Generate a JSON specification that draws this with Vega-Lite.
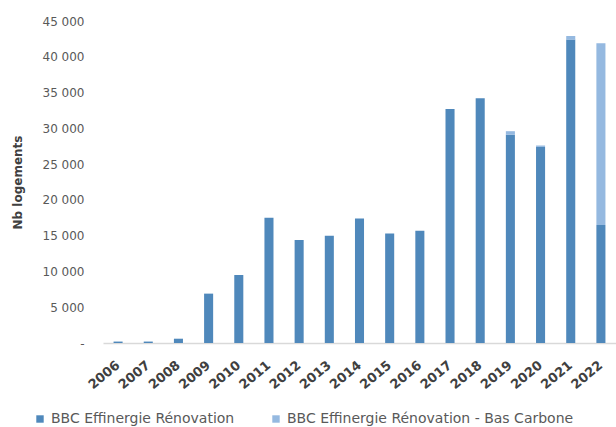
{
  "$schema": "https://vega.github.io/schema/vega-lite/v6.json",
  "autosize": {"type": "none"},
  "padding": {"left": 103, "top": 21, "right": 0, "bottom": 84},
  "width": 513,
  "height": 322,
  "background": "white",
  "config": {"view": {"stroke": null}},
  "data": {"values": [
    {"annee": "2006", "serie": "BBC Effinergie Rénovation", "ordre": 1, "nb": 200},
    {"annee": "2007", "serie": "BBC Effinergie Rénovation", "ordre": 1, "nb": 200},
    {"annee": "2008", "serie": "BBC Effinergie Rénovation", "ordre": 1, "nb": 600},
    {"annee": "2009", "serie": "BBC Effinergie Rénovation", "ordre": 1, "nb": 6900},
    {"annee": "2010", "serie": "BBC Effinergie Rénovation", "ordre": 1, "nb": 9500},
    {"annee": "2011", "serie": "BBC Effinergie Rénovation", "ordre": 1, "nb": 17500},
    {"annee": "2012", "serie": "BBC Effinergie Rénovation", "ordre": 1, "nb": 14400},
    {"annee": "2013", "serie": "BBC Effinergie Rénovation", "ordre": 1, "nb": 15000},
    {"annee": "2014", "serie": "BBC Effinergie Rénovation", "ordre": 1, "nb": 17400},
    {"annee": "2015", "serie": "BBC Effinergie Rénovation", "ordre": 1, "nb": 15300},
    {"annee": "2016", "serie": "BBC Effinergie Rénovation", "ordre": 1, "nb": 15700},
    {"annee": "2017", "serie": "BBC Effinergie Rénovation", "ordre": 1, "nb": 32700},
    {"annee": "2018", "serie": "BBC Effinergie Rénovation", "ordre": 1, "nb": 34200},
    {"annee": "2019", "serie": "BBC Effinergie Rénovation", "ordre": 1, "nb": 29100},
    {"annee": "2020", "serie": "BBC Effinergie Rénovation", "ordre": 1, "nb": 27400},
    {"annee": "2021", "serie": "BBC Effinergie Rénovation", "ordre": 1, "nb": 42400},
    {"annee": "2022", "serie": "BBC Effinergie Rénovation", "ordre": 1, "nb": 16500},
    {"annee": "2019", "serie": "BBC Effinergie Rénovation - Bas Carbone", "ordre": 2, "nb": 500},
    {"annee": "2020", "serie": "BBC Effinergie Rénovation - Bas Carbone", "ordre": 2, "nb": 200},
    {"annee": "2021", "serie": "BBC Effinergie Rénovation - Bas Carbone", "ordre": 2, "nb": 500},
    {"annee": "2022", "serie": "BBC Effinergie Rénovation - Bas Carbone", "ordre": 2, "nb": 25400}
  ]},
  "mark": {"type": "bar"},
  "encoding": {
    "x": {
      "field": "annee", "type": "ordinal",
      "scale": {"paddingInner": 0.7, "paddingOuter": 0.35},
      "axis": {
        "title": null, "labelAngle": -40, "labelAlign": "right", "labelBaseline": "middle",
        "labelFont": "DejaVu Sans", "labelFontSize": 13, "labelFontWeight": "bold", "labelColor": "#404040",
        "ticks": false, "labelPadding": 20, "domainColor": "#d9d9d9", "domainWidth": 1.5
      }
    },
    "y": {
      "field": "nb", "type": "quantitative", "aggregate": "sum",
      "scale": {"domain": [0, 45000]},
      "axis": {
        "title": "Nb logements", "values": [0, 5000, 10000, 15000, 20000, 25000, 30000, 35000, 40000, 45000],
        "labelExpr": "datum.value == 0 ? '-' : replace(format(datum.value, ','), ',', ' ')",
        "labelFont": "DejaVu Sans", "labelFontSize": 12, "labelColor": "#595959",
        "titleFont": "DejaVu Sans", "titleFontSize": 12, "titleFontWeight": "bold", "titleColor": "#404040",
        "ticks": false, "domain": false, "grid": false, "labelPadding": 19, "titlePadding": 18
      }
    },
    "color": {
      "field": "serie", "type": "nominal",
      "scale": {"domain": ["BBC Effinergie Rénovation", "BBC Effinergie Rénovation - Bas Carbone"], "range": ["#4f88bb", "#95b9e0"]},
      "legend": {
        "title": null, "orient": "none", "direction": "horizontal", "legendX": -70, "legendY": 391,
        "symbolType": "square", "symbolSize": 55, "symbolStrokeWidth": 0, "labelLimit": 0,
        "labelFont": "DejaVu Sans", "labelFontSize": 14, "labelColor": "#595959", "columnPadding": 34
      }
    },
    "order": {"field": "ordre", "type": "quantitative"}
  }
}
